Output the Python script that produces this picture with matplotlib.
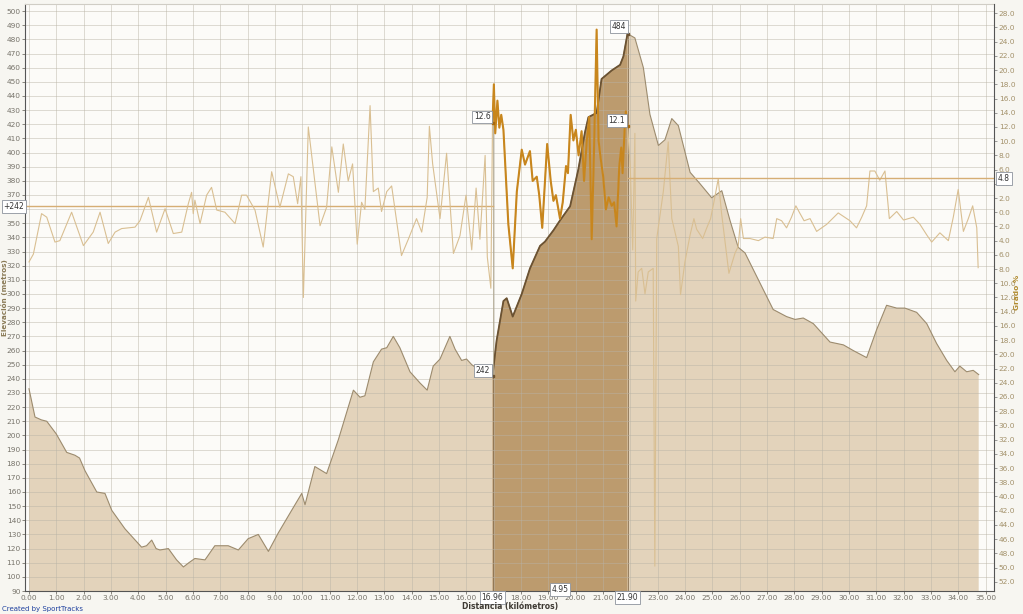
import numpy as np
import matplotlib.pyplot as plt
from matplotlib.ticker import FuncFormatter

# elevation profile (km, metres)
dist_km = [0.00, 0.22, 0.45, 0.65, 1.00, 1.38, 1.68, 1.85, 2.05, 2.48, 2.78, 3.03, 3.51,
           4.12, 4.30, 4.49, 4.65, 4.79, 5.10, 5.40, 5.65, 5.85, 6.07, 6.44, 6.80, 7.29,
           7.66, 8.02, 8.39, 8.76, 9.12, 9.61, 9.98, 10.10, 10.46, 10.89, 11.32, 11.87,
           12.11, 12.29, 12.60, 12.90, 13.09, 13.33, 13.57, 13.94, 14.31, 14.57, 14.79,
           15.04, 15.40, 15.59, 15.83, 16.01, 16.20, 16.50, 16.96, 17.11, 17.36, 17.48,
           17.70, 18.03, 18.33, 18.70, 18.88, 19.19, 19.43, 19.80, 20.10, 20.34, 20.47,
           20.77, 20.95, 21.32, 21.63, 21.75, 21.90, 22.17, 22.48, 22.72, 23.03, 23.27,
           23.52, 23.76, 24.19, 24.55, 24.98, 25.35, 25.65, 25.95, 26.20, 27.23, 27.72,
           28.03, 28.33, 28.70, 29.31, 29.80, 30.16, 30.65, 31.02, 31.38, 31.75, 32.05,
           32.48, 32.85, 33.21, 33.58, 33.88, 34.06, 34.31, 34.55, 34.75]
elevation_m = [233, 213, 211, 210, 201, 188, 186, 184, 175, 160, 159, 147, 134,
               121, 122, 126, 120, 119, 120, 112, 107, 110, 113, 112, 122, 122,
               119, 127, 130, 118, 131, 147, 159, 151, 178, 173, 197, 232,
               227, 228, 252, 261, 262, 270, 262, 245, 237, 232, 249,
               254, 270, 261, 253, 254, 250, 246, 242, 267, 295, 297,
               284, 300, 318, 334, 337, 345, 352, 362, 388, 414, 425,
               428, 452, 458, 462, 468, 484, 481, 460, 427, 405, 409,
               424, 419, 386, 378, 368, 373, 352, 333, 329, 289, 284,
               282, 283, 279, 266, 264, 260, 255, 275, 292, 290, 290,
               287, 279, 265, 253, 245, 249, 245, 246, 243]

# grade (km, %)
grade_km = [0.00, 0.16, 0.46, 0.65, 0.95, 1.13, 1.56, 1.99, 2.35, 2.60, 2.90, 3.15, 3.39,
            3.88, 4.06, 4.37, 4.67, 4.98, 5.28, 5.59, 5.83, 5.95, 6.01, 6.07, 6.26, 6.50,
            6.68, 6.87, 7.17, 7.54, 7.78, 7.96, 8.27, 8.57, 8.88, 9.18, 9.49, 9.67, 9.83,
            9.95, 10.04, 10.22, 10.65, 10.89, 11.08, 11.32, 11.50, 11.68, 11.84, 12.01,
            12.17, 12.29, 12.48, 12.60, 12.78, 12.90, 13.09, 13.27, 13.63, 13.88, 14.18,
            14.37, 14.57, 14.65, 14.77, 15.04, 15.28, 15.53, 15.77, 15.99, 16.20, 16.36,
            16.50, 16.69, 16.77, 16.90, 16.96, 17.01, 17.06, 17.14, 17.21, 17.28, 17.36,
            17.54, 17.70, 17.85, 18.03, 18.15, 18.33, 18.43, 18.58, 18.67, 18.78, 18.96,
            19.09, 19.19, 19.28, 19.43, 19.53, 19.65, 19.72, 19.82, 19.92, 20.01, 20.11,
            20.22, 20.31, 20.41, 20.50, 20.59, 20.67, 20.77, 20.84, 20.92, 21.01, 21.11,
            21.21, 21.32, 21.41, 21.50, 21.60, 21.67, 21.72, 21.80, 21.84, 21.90, 22.00,
            22.09, 22.17, 22.20, 22.29, 22.42, 22.54, 22.66, 22.84, 22.90, 22.97, 23.21,
            23.39, 23.52, 23.76, 23.84, 24.00, 24.19, 24.33, 24.43, 24.65, 24.80, 24.94,
            25.06, 25.22, 25.34, 25.61, 25.83, 25.95, 26.04, 26.14, 26.38, 26.69, 26.93,
            27.23, 27.36, 27.54, 27.72, 27.90, 28.06, 28.20, 28.36, 28.58, 28.82, 29.19,
            29.61, 30.04, 30.28, 30.47, 30.65, 30.77, 30.95, 31.13, 31.32, 31.48, 31.75,
            32.00, 32.36, 32.60, 32.85, 33.03, 33.33, 33.64, 33.82, 34.00, 34.19, 34.37,
            34.53, 34.68, 34.73]
grade_pct = [-7.0, -5.9, -0.2, -0.7, -4.2, -4.0, 0.0, -4.7, -2.8, 0.0, -4.4, -2.8, -2.3,
             -2.1, -1.2, 2.1, -2.8, 0.5, -3.0, -2.8, 1.2, 2.8, -0.2, 1.7, -1.6, 2.4,
             3.5, 0.3, 0.0, -1.6, 2.4, 2.4, 0.3, -4.9, 5.7, 0.7, 5.4, 5.0, 1.2,
             5.0, -12.0, 12.0, -1.9, 0.7, 9.2, 2.8, 9.6, 4.4, 6.8, -4.5,
             1.4, 0.4, 15.0, 2.9, 3.4, 0.1, 2.9, 3.7, -6.1, -3.8, -0.9,
             -2.8, 2.1, 12.1, 6.8, -0.9, 8.3, -5.8, -3.3, 2.4, -5.3, 3.4,
             -3.8, 8.0, -6.3, -10.7, 12.6, 18.0, 11.1, 15.7, 11.9, 13.7, 11.6,
             -1.7, -7.9, 2.9, 8.8, 6.7, 8.6, 4.4, 5.0, 2.4, -2.2, 9.6,
             4.4, 1.6, 2.4, -0.9, 1.4, 6.5, 5.5, 13.7, 10.1, 11.6, 8.0,
             11.4, 4.4, 10.1, 13.4, -3.8, 8.0, 25.7, 10.1, 7.5, 5.0, 0.4,
             2.1, 0.9, 1.4, -2.0, 6.5, 9.1, 5.5, 12.1, 14.2, 12.1, 6.5,
             -5.3, 11.1, -12.5, -8.4, -7.9, -11.5, -8.4, -7.9, -49.8, -3.7, 2.9,
             9.9, -0.9, -4.8, -11.6, -7.0, -3.2, -0.9, -2.4, -3.7, -2.2, -0.9,
             1.4, 4.7, -0.1, -8.6, -5.8, -4.8, -0.9, -3.7, -3.7, -4.0, -3.5,
             -3.7, -0.9, -1.2, -2.2, -0.7, 0.9, -0.1, -1.2, -0.9, -2.7, -1.7,
             -0.1, -1.2, -2.2, -0.7, 0.9, 5.8, 5.8, 4.5, 5.8, -0.9, 0.1,
             -1.1, -0.7, -1.7, -3.2, -4.2, -2.9, -4.0, -0.7, 3.2, -2.7, -0.9,
             0.9, -2.2, -7.8]

sel_start, sel_end = 16.96, 21.90
sel_length_label = '4.95'
sel_start_elev, sel_end_elev = 242, 484
sel_start_grade, sel_end_grade = 12.6, 12.1
sel_gain_label = '+242'
sel_gain_level = 362
sel_avg_grade = 4.8

d = np.array(dist_km)
e = np.array(elevation_m)
gk = np.array(grade_km)
gp = np.array(grade_pct)

fig = plt.figure(figsize=(10.23, 6.14), dpi=100, facecolor='#f7f6f1')
ax = fig.add_axes([25 / 1023, 1 - 591 / 614, 969 / 1023, 587 / 614])
ax.set_facecolor('#fcfbf8')
ax.set_xlim(-0.146, 35.31)
ax.set_ylim(90, 505)

# elevation area
ax.fill_between(d, 0, e, color='#e3d3bb', lw=0)
ax.plot(d, e, color='#9c8b6e', lw=0.8)
sel = (d >= sel_start) & (d <= sel_end)
ax.fill_between(d[sel], 0, e[sel], color='#bc9b6e', lw=0)
ax.plot(d[sel], e[sel], color='#6b5232', lw=1.3)
ax.plot([sel_start, sel_start], [90, sel_start_elev], color='#8a7252', lw=0.6, zorder=1.2)
ax.plot([sel_end, sel_end], [90, sel_end_elev], color='#8a7252', lw=0.6, zorder=1.2)
ax.plot([sel_start, sel_start], [sel_start_elev, 425], color='#b0a892', lw=0.6)

# ticks and grid
ax.set_xticks(np.arange(0, 36))
ax.set_yticks(np.arange(90, 501, 10))
ax.xaxis.set_major_formatter(FuncFormatter(
    lambda v, p: '' if round(v) in (17, 22) else f'{v:.2f}'))
ax.tick_params(axis='both', labelsize=5.3, labelcolor='#77736a', color='#77736a',
               length=2, width=0.6, pad=1)
ax.grid(True, color='#b9b3a6', lw=0.6, alpha=0.55)
for s in ['left', 'bottom']:
    ax.spines[s].set_color('#555555')
ax.spines['top'].set_color('#d0cdc5')
ax.spines['right'].set_visible(False)

# gain reference line
ax.plot([ax.get_xlim()[0], sel_start], [sel_gain_level, sel_gain_level], color='#d6ae74', lw=1.0)

# grade on right axis
ax2 = ax.twinx()
ax2.set_ylim(-53.3, 29.3)
ax2.set_yticks(np.arange(-52, 29, 2))
ax2.yaxis.set_major_formatter(FuncFormatter(lambda v, p: f'{abs(v):.1f}'))
ax2.tick_params(axis='y', labelsize=5.3, labelcolor='#a3916a', color='#8a8a8a',
                length=2, width=0.6, pad=1.5)
ax2.spines['right'].set_color('#555555')
for s in ['left', 'top', 'bottom']:
    ax2.spines[s].set_visible(False)

ax2.plot(gk, gp, color='#d9bf92', lw=0.8)
gsel = (gk >= sel_start) & (gk <= sel_end)
ax2.plot(gk[gsel], gp[gsel], color='#c8861d', lw=1.5)
ax2.plot([sel_end, 35.31], [sel_avg_grade, sel_avg_grade], color='#d6ae74', lw=1.0)

# selection markers
ax.plot([sel_start, sel_end], [sel_start_elev, sel_end_elev], 's', color='#6b5232', ms=2)
ax2.plot([sel_start, sel_end], [sel_start_grade, sel_end_grade], 's', color='#a86a10', ms=2)

box = dict(boxstyle='square,pad=0.25', fc='white', ec='#8d939c', lw=0.6)
tkw = dict(fontsize=5.5, color='#333333', ha='center', va='center', bbox=box)
ax.text(16.61, 246, f'{sel_start_elev}', **tkw)
ax.text(21.59, 489, f'{sel_end_elev}', **tkw)
ax2.text(16.58, 13.4, f'{sel_start_grade}', **tkw)
ax2.text(21.51, 12.9, f'{sel_end_grade}', **tkw)
ax.text(-0.55, sel_gain_level, sel_gain_label, clip_on=False, zorder=5, **tkw)
ax2.text(35.67, sel_avg_grade, f'{sel_avg_grade}', clip_on=False, zorder=5, **tkw)
xt = ax.get_xaxis_transform()
ax.text(sel_start, -0.011, f'{sel_start:.2f}', transform=xt, clip_on=False, **tkw)
ax.text(sel_end, -0.011, f'{sel_end:.2f}', transform=xt, clip_on=False, **tkw)
ax.text((sel_start + sel_end) / 2, 0.003, sel_length_label, transform=xt,
        clip_on=False, **tkw)

# axis titles
fig.text(4.5 / 1023, 1 - 298 / 614, 'Elevación (metros)', rotation=90, ha='center',
         va='center', fontsize=5.2, fontweight='bold', color='#8a7a56')
fig.text(1017 / 1023, 1 - 292 / 614, 'Grado %', rotation=90, ha='center',
         va='center', fontsize=5.3, fontweight='bold', color='#b08a2e')
fig.text(510 / 1023, 1 - 607 / 614, 'Distancia (kilómetros)', ha='center', va='center',
         fontsize=5.5, fontweight='bold', color='#3e3a33')
fig.text(2 / 1023, 1 - 609 / 614, 'Created by SportTracks', ha='left', va='center',
         fontsize=5, color='#1d3f9e')

fig.savefig('out.png', dpi=100, facecolor=fig.get_facecolor())
